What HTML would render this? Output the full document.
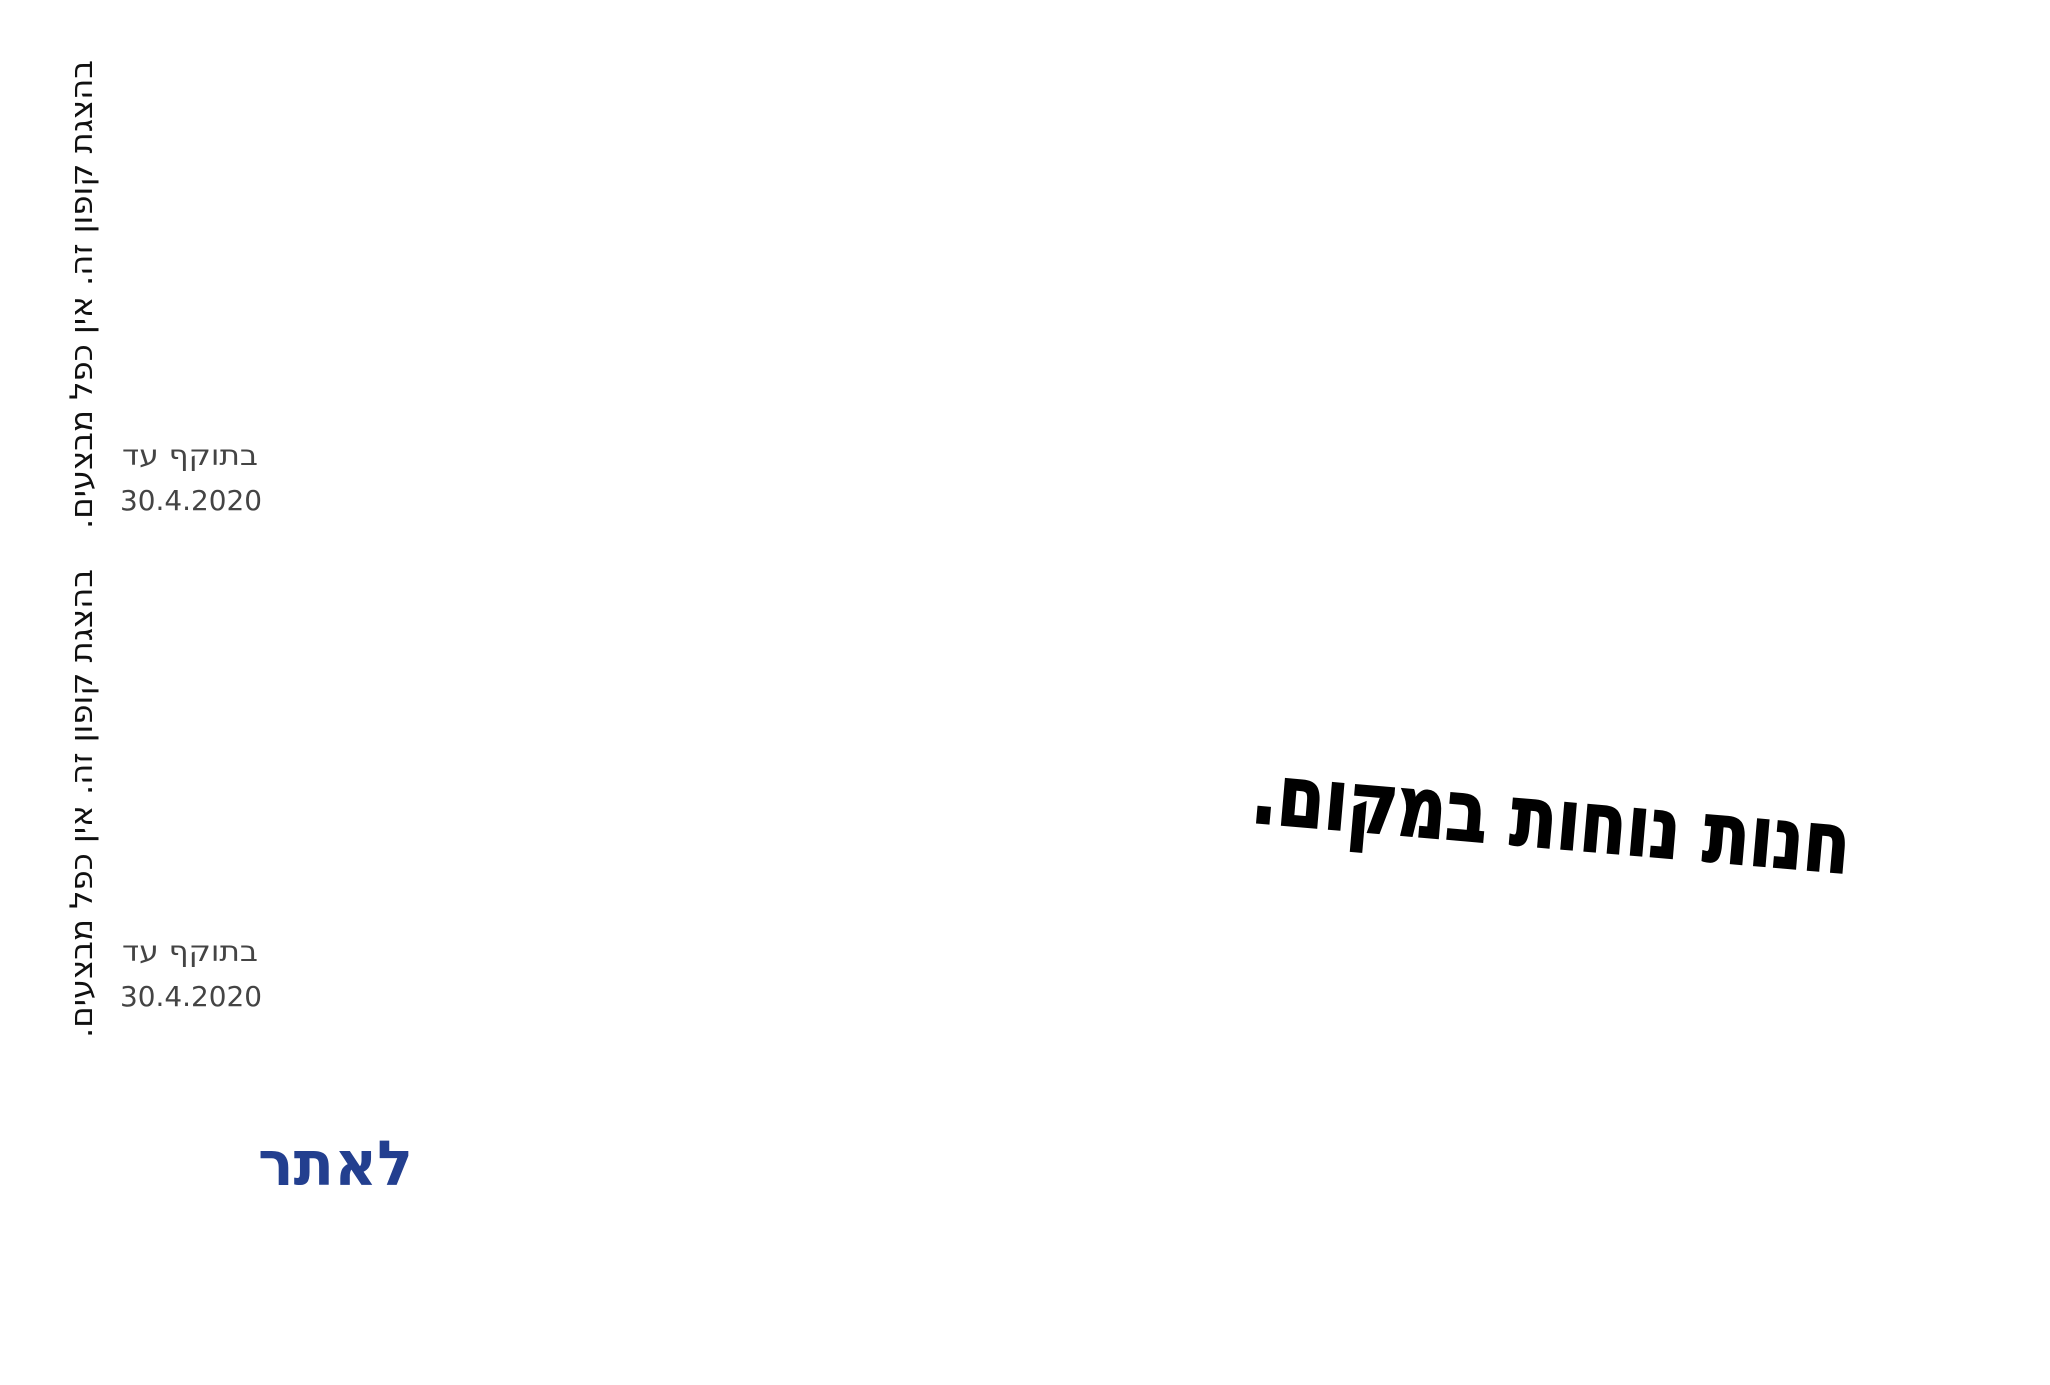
<!DOCTYPE html>
<html><head><meta charset="utf-8"><style>
html,body{margin:0;padding:0;background:#fff;}
svg{display:block;}
</style></head><body>
<svg width="2050" height="1385" viewBox="0 0 2050 1385" xmlns="http://www.w3.org/2000/svg">
<g font-family="'DejaVu Sans','Liberation Sans',sans-serif">
  <g transform="translate(92,0) rotate(-90)">
    <text x="-529" y="0" font-size="31" fill="#111" textLength="469" lengthAdjust="spacingAndGlyphs">&#x200F;בהצגת קופון זה. אין כפל מבצעים.&#x200F;</text>
    <text x="-1038" y="0" font-size="31" fill="#111" textLength="469" lengthAdjust="spacingAndGlyphs">&#x200F;בהצגת קופון זה. אין כפל מבצעים.&#x200F;</text>
  </g>
  <text x="122" y="465" font-size="28" fill="#444" textLength="136" lengthAdjust="spacingAndGlyphs">בתוקף עד</text>
  <text x="120" y="510" font-size="28" fill="#444" textLength="142" lengthAdjust="spacingAndGlyphs">30.4.2020</text>
  <text x="122" y="961" font-size="28" fill="#444" textLength="136" lengthAdjust="spacingAndGlyphs">בתוקף עד</text>
  <text x="120" y="1006" font-size="28" fill="#444" textLength="142" lengthAdjust="spacingAndGlyphs">30.4.2020</text>
  <text x="258" y="1185" font-size="62" font-weight="bold" fill="#233f8f" textLength="155" lengthAdjust="spacingAndGlyphs">לאתר</text>
  <g transform="translate(1250,822) rotate(4.9)">
    <text x="0" y="0" font-size="84" font-weight="bold" fill="#000" stroke="#000" stroke-width="2" textLength="600" lengthAdjust="spacingAndGlyphs">&#x200F;חנות נוחות במקום.&#x200F;</text>
  </g>
</g>
</svg>
</body></html>
